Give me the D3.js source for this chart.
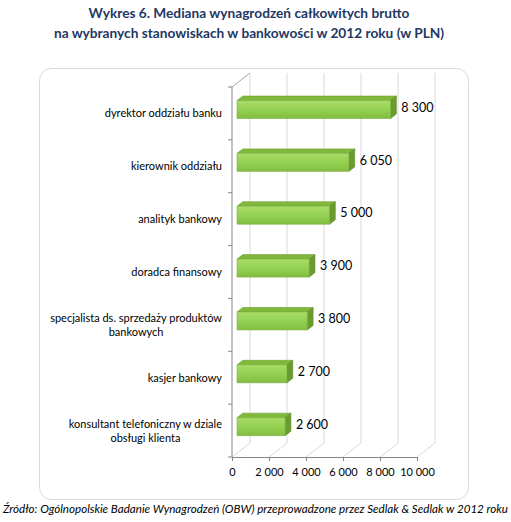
<!DOCTYPE html>
<html>
<head>
<meta charset="utf-8">
<script src="https://cdn.jsdelivr.net/npm/d3@7"></script>
<style>
  body { margin: 0; background: #fff; }
  svg { display: block; font-family: Lato, "Open Sans", sans-serif; }
</style>
</head>
<body>
<svg id="chart" width="511" height="522"></svg>
<script>
// data
const categories = [
  ["dyrektor oddziału banku"],
  ["kierownik oddziału"],
  ["analityk bankowy"],
  ["doradca finansowy"],
  ["specjalista ds. sprzedaży produktów", "bankowych"],
  ["kasjer bankowy"],
  ["konsultant telefoniczny w dziale", "obsługi klienta"]
];
const values = [8300, 6050, 5000, 3900, 3800, 2700, 2600];
const ticks = [0, 2000, 4000, 6000, 8000, 10000];
const titleLines = [
  "Wykres 6. Mediana wynagrodzeń całkowitych brutto",
  "na wybranych stanowiskach w bankowości w 2012 roku (w PLN)"
];
const source = "Źródło: Ogólnopolskie Badanie Wynagrodzeń (OBW) przeprowadzone przez Sedlak & Sedlak w 2012 roku";

const svg = d3.select("#chart");
const fmt = v => d3.format(",")(v).replace(/,/g, " ");

// title
svg.selectAll(".title")
  .data(titleLines)
  .enter().append("text")
  .attr("x", 249).attr("y", (d, i) => 18 + i * 20)
  .attr("text-anchor", "middle")
  .attr("font-size", 13.7).attr("font-weight", "bold")
  .attr("fill", "#1f3864")
  .text(d => d);

// frame
svg.append("rect")
  .attr("x", 39.5).attr("y", 68.5).attr("width", 429).attr("height", 431)
  .attr("rx", 12).attr("fill", "#fff").attr("stroke", "#d9d9d9");

// 3d geometry
const depth = { dx: 18, dy: -14 };
const x = d3.scaleLinear().domain([0, 10000]).range([232, 417]);
const y = d3.scaleBand().domain(d3.range(categories.length)).range([87, 457]);
const floorY = 457;

const walls = svg.append("g").attr("fill", "none");
// back wall gridlines
walls.selectAll(".grid")
  .data(ticks)
  .enter().append("line")
  .attr("x1", d => x(d) + depth.dx).attr("x2", d => x(d) + depth.dx)
  .attr("y1", y.range()[0] + depth.dy).attr("y2", floorY + depth.dy)
  .attr("stroke", "#d9d9d9");
// floor gridlines
walls.selectAll(".floor")
  .data(ticks)
  .enter().append("line")
  .attr("x1", d => x(d)).attr("x2", d => x(d) + depth.dx)
  .attr("y1", floorY).attr("y2", floorY + depth.dy)
  .attr("stroke", "#d9d9d9");
// left wall top edge
walls.append("line")
  .attr("x1", x(0)).attr("y1", y.range()[0])
  .attr("x2", x(0) + depth.dx).attr("y2", y.range()[0] + depth.dy)
  .attr("stroke", "#a6a6a6");

// axes
const xAxis = svg.append("g")
  .attr("transform", `translate(0,${floorY})`)
  .call(d3.axisBottom(x).tickValues(ticks).tickFormat(fmt).tickSize(4).tickSizeOuter(0));
xAxis.select(".domain").attr("stroke", "#868686");
xAxis.selectAll(".tick line").attr("stroke", "#868686");
xAxis.selectAll("text").attr("font-size", 11).attr("fill", "#000")
  .attr("font-family", "Lato, sans-serif").attr("dy", "1.1em");

const yAxis = svg.append("g").attr("transform", `translate(${x(0)},0)`);
yAxis.append("line")
  .attr("x1", 0).attr("x2", 0).attr("y1", y.range()[0]).attr("y2", floorY)
  .attr("stroke", "#868686");
yAxis.selectAll(".yt")
  .data(d3.range(categories.length + 1))
  .enter().append("line")
  .attr("x1", -4).attr("x2", 0)
  .attr("y1", d => y.range()[0] + d * y.step())
  .attr("y2", d => y.range()[0] + d * y.step())
  .attr("stroke", "#868686");

// category labels (wrapped, centered block right-aligned to axis)
const labels = svg.append("g");
categories.forEach((lines, i) => {
  const cy = y(i) + y.bandwidth() / 2;
  const t = labels.append("text")
    .attr("font-size", 11).attr("fill", "#000")
    .attr("text-anchor", "middle");
  lines.forEach((ln, j) => {
    t.append("tspan").attr("x", 0)
      .attr("y", cy + 4 + (j - (lines.length - 1) / 2) * 14)
      .text(ln);
  });
  const w = d3.max(t.selectAll("tspan").nodes(), n => n.getComputedTextLength());
  t.selectAll("tspan").attr("x", 222 - w / 2);
});

// gradients
const defs = svg.append("defs");
const g1 = defs.append("linearGradient").attr("id", "front")
  .attr("x1", 0).attr("y1", 0).attr("x2", 0).attr("y2", 1);
g1.append("stop").attr("offset", "0%").attr("stop-color", "#a9dc68");
g1.append("stop").attr("offset", "55%").attr("stop-color", "#92d050");
g1.append("stop").attr("offset", "100%").attr("stop-color", "#82bd42");

// bars
const f0 = 0.28, f1 = 0.6;
const barH = 18;
const o0 = { dx: depth.dx * f0, dy: depth.dy * f0 };
const o1 = { dx: depth.dx * f1, dy: depth.dy * f1 };
const bars = svg.append("g");
values.forEach((v, i) => {
  const cy = y(i) + y.bandwidth() / 2;
  const xl = x(0) + o0.dx, xr = x(v) + o0.dx;
  const yt = cy - barH / 2 + o0.dy, yb = cy + barH / 2 + o0.dy;
  const ddx = o1.dx - o0.dx, ddy = o1.dy - o0.dy;
  const g = bars.append("g").attr("stroke-linejoin", "round");
  // top
  g.append("path")
    .attr("d", `M${xl},${yt}L${xl + ddx},${yt + ddy}L${xr + ddx},${yt + ddy}L${xr},${yt}Z`)
    .attr("fill", "#80b83c").attr("stroke", "#6f9f33").attr("stroke-width", 0.6);
  // side
  g.append("path")
    .attr("d", `M${xr},${yt}L${xr + ddx},${yt + ddy}L${xr + ddx},${yb + ddy}L${xr},${yb}Z`)
    .attr("fill", "#6a9a30").attr("stroke", "#5d8a28").attr("stroke-width", 0.6);
  // front
  g.append("rect")
    .attr("x", xl).attr("y", yt).attr("width", xr - xl).attr("height", barH)
    .attr("fill", "url(#front)").attr("stroke", "#7aae3d").attr("stroke-width", 0.6);
  // value
  svg.append("text")
    .attr("x", xr + ddx + 5).attr("y", cy + o0.dy - 1)
    .attr("dominant-baseline", "middle")
    .attr("font-size", 12.5).attr("fill", "#000")
    .text(fmt(v));
});

// source
svg.append("text")
  .attr("x", 3).attr("y", 513)
  .attr("font-size", 11).attr("font-style", "italic").attr("fill", "#000")
  .attr("textLength", 505).attr("lengthAdjust", "spacingAndGlyphs")
  .text(source);
</script>
</body>
</html>
